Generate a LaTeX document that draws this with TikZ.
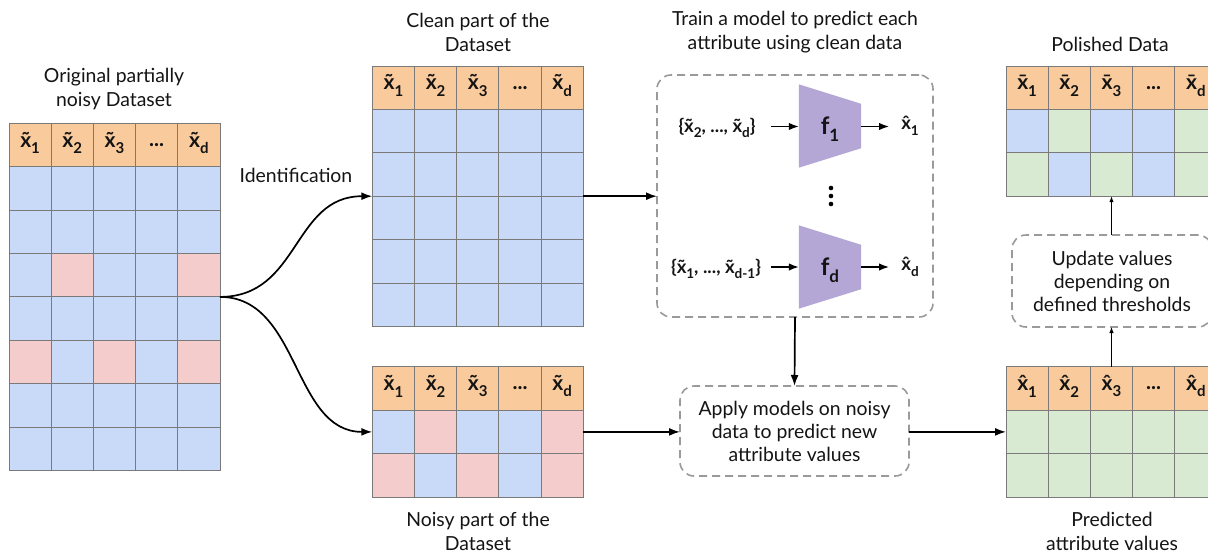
\documentclass[tikz,border=0pt]{standalone}
\usepackage{fontspec}
\setmainfont{Lato}
\usetikzlibrary{arrows.meta}

\definecolor{hdr}{HTML}{F9CB9C}
\definecolor{cB}{HTML}{C9DAF8}
\definecolor{cP}{HTML}{F4CCCC}
\definecolor{cG}{HTML}{D9EAD3}
\definecolor{fpurple}{HTML}{B4A7D6}
\definecolor{gridgray}{HTML}{7A7A7A}
\definecolor{dashgray}{HTML}{9A9A9A}
\definecolor{ink}{HTML}{141414}

% accent placed over a letter
\protected\def\accover#1#2{\ooalign{#2\cr\hidewidth#1\hidewidth\cr}}
\protected\def\tx{\accover{˜}{x}}
\protected\def\hx{\accover{ˆ}{x}}
\protected\def\bx{\accover{¯}{x}}
\protected\def\subs#1{\raisebox{-0.3em}{\fontsize{15}{15}\selectfont #1}}
\protected\def\subsm#1{\raisebox{-0.3em}{\fontsize{13.5}{13.5}\selectfont #1}}
% header label of column #2 for accented letter #1
\protected\def\hdrlabel#1#2{\ifcase#2\or#1\subs{1}\or#1\subs{2}\or#1\subs{3}\or...\or#1\subs{d}\fi}

\def\cw{42.2}
\def\rh{43.4}

% a table: #1 name, #2 left x, #3 top y, #4 accented letter, #5 rows of cell colours
\newcommand\datatable[5]{%
  \foreach \k in {1,2,3,4,5}
    \node[cell,fill=hdr,font=\fontsize{21}{21}\selectfont\bfseries] (#1-h-\k)
      at ({#2+(\k-0.5)*\cw},{#3+0.5*\rh}) {\hdrlabel{#4}{\k}};
  \foreach \row [count=\r] in {#5}
    \foreach \c [count=\k] in \row
      \node[cell,fill=\c] (#1-\r-\k) at ({#2+(\k-0.5)*\cw},{#3+(\r+0.5)*\rh}) {};
}

\tikzset{
  cell/.style={draw=gridgray, line width=0.9pt, minimum width=\cw pt,
    minimum height=\rh pt, inner sep=0pt, outer sep=0pt, text=ink},
  lbl/.style={text=ink, align=center, inner sep=0pt,
    font=\fontsize{19.4}{24}\selectfont},
  boxtxt/.style={text=ink, align=center, inner sep=0pt,
    font=\fontsize{19.4}{23}\selectfont},
  dashbox/.style={draw=dashgray, line width=1.6pt, dash pattern=on 8pt off 5pt,
    rounded corners=14pt, inner sep=0pt, outer sep=0pt},
  arr/.style={line width=1.7pt, draw=black, -{Latex[length=11pt,width=8pt]}},
  sarr/.style={line width=1.5pt, draw=black, -{Latex[length=10pt,width=7.5pt]}},
  tarr/.style={line width=0.9pt, draw=black, -{Latex[length=6pt,width=4.5pt]}},
  modtxt/.style={text=ink, inner sep=0pt, font=\fontsize{18.5}{18.5}\selectfont\bfseries},
}

\begin{document}
\begin{tikzpicture}[x=1pt,y=-1pt]
\clip (0,0) rectangle (1208,552);
\fill[white] (0,0) rectangle (1208,552);

% data tables
\datatable{L}{9}{123.3}{\tx}{{cB,cB,cB,cB,cB},{cB,cB,cB,cB,cB},{cB,cP,cB,cB,cP},{cB,cB,cB,cB,cB},{cP,cB,cP,cB,cP},{cB,cB,cB,cB,cB},{cB,cB,cB,cB,cB}}
\datatable{C}{372.3}{66}{\tx}{{cB,cB,cB,cB,cB},{cB,cB,cB,cB,cB},{cB,cB,cB,cB,cB},{cB,cB,cB,cB,cB},{cB,cB,cB,cB,cB}}
\datatable{N}{372.3}{366.8}{\tx}{{cB,cP,cB,cB,cP},{cP,cB,cP,cB,cP}}
\datatable{R}{1006}{366.8}{\hx}{{cG,cG,cG,cG,cG},{cG,cG,cG,cG,cG}}
\datatable{P}{1006}{66}{\bx}{{cB,cG,cB,cB,cG},{cG,cB,cG,cB,cG}}

% captions
\node[lbl] (tOrig) at (114,89) {Original partially\\noisy Dataset};
\node[lbl] (tClean) at (478,32) {Clean part of the\\Dataset};
\node[lbl] (tTrain) at (795,32) {Train a model to predict each\\attribute using clean data};
\node[lbl] (tPol) at (1110,44) {Polished Data};
\node[lbl] (tIdent) at (296,175) {Identification};
\node[lbl] (tNoisy) at (478,531) {Noisy part of the\\Dataset};
\node[lbl] (tPred) at (1112,531) {Predicted\\attribute values};

% model box with the per-attribute models
\node[dashbox, minimum width=276pt, minimum height=242pt] (mbox) at (795,196) {};
\node[minimum width=62pt, minimum height=83pt, inner sep=0pt] (f1) at (830,126) {};
\node[minimum width=62pt, minimum height=83pt, inner sep=0pt] (fd) at (830,267) {};
\fill[fpurple] (f1.north west) -- ([yshift=-19.5pt]f1.north east)
  -- ([yshift=19.5pt]f1.south east) -- (f1.south west) -- cycle;
\fill[fpurple] (fd.north west) -- ([yshift=-19.5pt]fd.north east)
  -- ([yshift=19.5pt]fd.south east) -- (fd.south west) -- cycle;
\node[text=ink, inner sep=0pt, font=\fontsize{24}{24}\selectfont\bfseries] (f1lab) at (830,129)
  {f\raisebox{-0.3em}{\fontsize{17}{17}\selectfont 1}};
\node[text=ink, inner sep=0pt, font=\fontsize{24}{24}\selectfont\bfseries] (fdlab) at (830,270)
  {f\raisebox{-0.3em}{\fontsize{17}{17}\selectfont d}};

\node[modtxt] (in1) at (717,128) {\{\tx\subsm{2}, ..., \tx\subsm{d}\}};
\node[modtxt] (ind) at (716,269) {\{\tx\subsm{1}, ..., \tx\subsm{d-1}\}};
\node[modtxt] (out1) at (910,128) {\hx\subsm{1}};
\node[modtxt] (outd) at (910,269) {\hx\subsm{d}};
\draw[sarr] (771,126.5) coordinate (in1e) -- (f1.west |- in1e);
\draw[sarr] (f1.east |- in1e) -- (889,126.5) coordinate (out1s);
\draw[sarr] (771,267) coordinate (inde) -- (fd.west |- inde);
\draw[sarr] (fd.east |- inde) -- (889,267) coordinate (outds);

% vertical ellipsis between the models
\foreach \yy [count=\i] in {188,196,204}
  \node[circle, fill=black, inner sep=0pt, minimum size=4.6pt] (vd\i) at (831,\yy) {};

% process boxes
\node[dashbox, minimum width=229pt, minimum height=90pt] (apply) at (794.5,431) {};
\node[boxtxt] (applyt) at (794.5,431) {Apply models on noisy\\data to predict new\\attribute values};
\node[dashbox, minimum width=200pt, minimum height=92pt] (upd) at (1112,281) {};
\node[boxtxt] (updt) at (1112,281) {Update values\\depending on\\defined thresholds};

% connectors
\coordinate (split) at (L-4-5.north east);
\draw[arr] (split) .. controls +(80,0) and +(-80,0) .. (C-2-1.south west);
\draw[arr] (split) .. controls +(80,0) and +(-80,0) .. (N-1-1.west);
\draw[arr] (C-2-5.south east) -- (C-2-5.south east -| mbox.west);
\draw[arr] (mbox.south) -- (apply.north);
\draw[arr] (N-1-5.east) -- (N-1-5.east -| apply.west);
\draw[arr] (apply.east |- R-1-1.west) -- (R-1-1.west);
\draw[tarr] (R-h-3.north) -- (R-h-3.north |- upd.south);
\draw[tarr] (upd.north -| P-2-3.south) -- (P-2-3.south);
\end{tikzpicture}
\end{document}
